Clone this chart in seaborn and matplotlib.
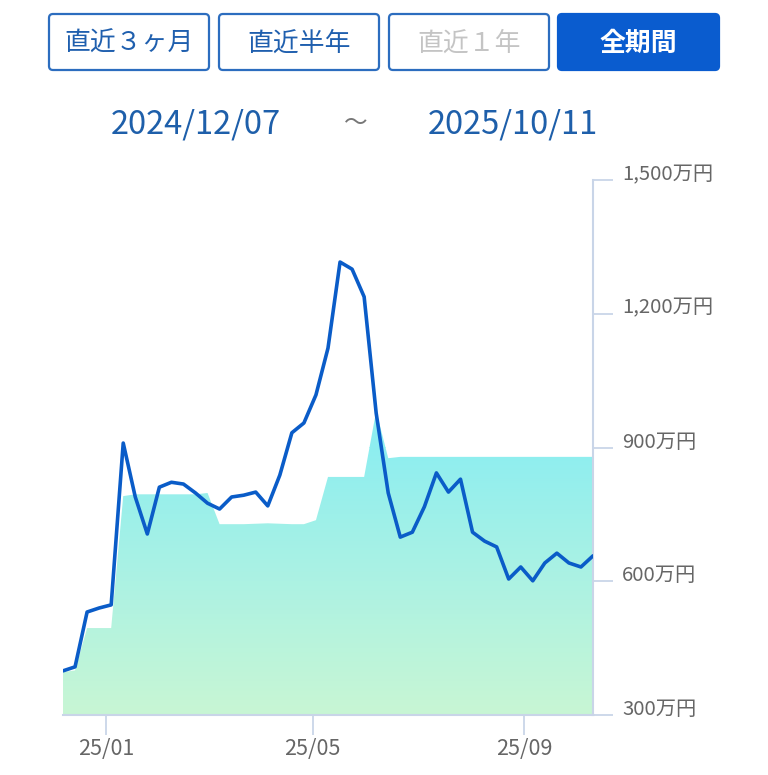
import numpy as np
import pandas as pd
import matplotlib
matplotlib.use("Agg")
import matplotlib.pyplot as plt
import matplotlib.dates as mdates
import seaborn as sns
from matplotlib.patches import FancyBboxPatch
from matplotlib.colors import LinearSegmentedColormap
from matplotlib.transforms import ScaledTranslation

# ---- data ----
dates = pd.date_range("2024-12-07", periods=45, freq="7D")
valuation = [399, 408, 531, 540, 547, 910, 789, 706, 811, 822,
             818, 798, 775, 762, 789, 793, 800, 769, 838, 933,
             955, 1018, 1123, 1316, 1300, 1238, 977, 798, 699, 710,
             767, 843, 800, 829, 710, 690, 677, 605, 632, 601,
             641, 663, 641, 632, 657]
principal = [396, 400, 495, 495, 495, 791, 795, 795, 795, 795,
             795, 795, 798, 728, 728, 728, 729, 730, 729, 728,
             728, 737, 834, 834, 834, 834, 982, 876, 879, 879,
             879, 879, 879, 879, 879, 879, 879, 879, 879, 879,
             879, 879, 879, 879, 879]
y_ticks = [300, 600, 900, 1200, 1500]
y_tick_labels = ["300万円", "600万円", "900万円", "1,200万円", "1,500万円"]
x_ticks = ["2025-01-01", "2025-05-01", "2025-09-01"]
x_tick_labels = ["25/01", "25/05", "25/09"]
buttons = ["直近３ヶ月", "直近半年", "直近１年", "全期間"]
period_start = "2024/12/07"
period_end = "2025/10/11"

sns.set_theme(style="white")
plt.rcParams["font.family"] = ["Noto Sans CJK JP", "DejaVu Sans"]

W, H = 768, 775
fig = plt.figure(figsize=(W / 100, H / 100), dpi=100)
fig.patch.set_facecolor("white")

# overlay for header UI
ax_ui = fig.add_axes([0, 0, 1, 1])
ax_ui.set_xlim(0, W)
ax_ui.set_ylim(H, 0)
ax_ui.axis("off")
ax_ui.patch.set_visible(False)

blue = "#0A5CCF"
border = "#2C6DBF"
btn_boxes = [(49, 14, 160, 56), (219, 14, 160, 56), (389, 14, 160, 56), (558, 14, 161, 56)]
for i, (label, (bx, by, bw, bh)) in enumerate(zip(buttons, btn_boxes)):
    if i == 3:
        fc, ec, tc, fw = blue, blue, "white", "bold"
    elif i == 2:
        fc, ec, tc, fw = "white", border, "#C4C4C4", "normal"
    else:
        fc, ec, tc, fw = "white", border, "#1F5FAE", "normal"
    box = FancyBboxPatch((bx + 4, by + 4), bw - 8, bh - 8,
                         boxstyle="round,pad=4", fc=fc, ec=ec, lw=1.6)
    ax_ui.add_patch(box)
    ax_ui.text(bx + bw / 2, by + bh / 2 + 1, label, ha="center", va="center",
               fontsize=18.6, color=tc, fontweight=fw)

ax_ui.text(196, 124, period_start, ha="center", va="center", fontsize=23.5, color="#1E5FAA")
ax_ui.text(356, 123, "～", ha="center", va="center", fontsize=17, color="#777777")
ax_ui.text(513, 124, period_end, ha="center", va="center", fontsize=23.5, color="#1E5FAA")

# ---- main chart ----
ax = fig.add_axes([63 / W, 60 / H, 530 / W, 535 / H])
ax.patch.set_visible(False)
df = pd.DataFrame({"date": dates, "value": valuation, "principal": principal})

sns.lineplot(data=df, x="date", y="value", color="#0A5CC8", lw=2.6, ax=ax, zorder=4)

poly = ax.fill_between(df["date"], 300, df["principal"], color="none", lw=0, zorder=1)
cmap = LinearSegmentedColormap.from_list("g", ["#C8F6D4", "#ACF2E3", "#8EEEF0"])
grad = np.linspace(0, 1, 256).reshape(-1, 1)
x0 = mdates.date2num(dates[0])
x1 = mdates.date2num(dates[-1])
im = ax.imshow(grad, extent=[x0, x1, 300, 900], origin="lower", aspect="auto",
               cmap=cmap, zorder=2, interpolation="bilinear")
im.set_clip_path(poly.get_paths()[0], transform=ax.transData)
im2 = ax.imshow(np.ones((2, 2)), extent=[x0, x1, 899, 1100], origin="lower", aspect="auto",
                cmap=LinearSegmentedColormap.from_list("c", ["#8EEEF0", "#8EEEF0"]),
                zorder=2, vmin=0, vmax=1)
im2.set_clip_path(poly.get_paths()[0], transform=ax.transData)

ax.set_xlim(dates[0], dates[-1])
ax.set_ylim(300, 1500)
ax.set_xlabel("")
ax.set_ylabel("")

axis_col = "#C9D5E8"
for s in ["top", "left"]:
    ax.spines[s].set_visible(False)
ax.spines["right"].set_color(axis_col)
ax.spines["right"].set_linewidth(1.5)
ax.spines["bottom"].set_color(axis_col)
ax.spines["bottom"].set_linewidth(1.5)

ax.yaxis.tick_right()
ax.set_yticks(y_ticks)
ax.set_yticklabels(y_tick_labels)
ax.tick_params(axis="y", which="major", right=True, left=False, length=14.5, width=1.3,
               color=axis_col, pad=6.5, labelsize=14.6, labelcolor="#666666")
for t in ax.yaxis.get_major_ticks():
    t.label2.set_transform(t.label2.get_transform() + ScaledTranslation(0, 0.08, fig.dpi_scale_trans))
    t.label2.set_horizontalalignment("left")

ax.set_xticks(pd.to_datetime(x_ticks))
ax.set_xticklabels(x_tick_labels)
ax.tick_params(axis="x", which="major", bottom=True, length=14.5, width=1.3,
               color=axis_col, pad=2, labelsize=15.5, labelcolor="#666666")
ax.grid(False)

fig.savefig("out.png", dpi=100, facecolor="white")
